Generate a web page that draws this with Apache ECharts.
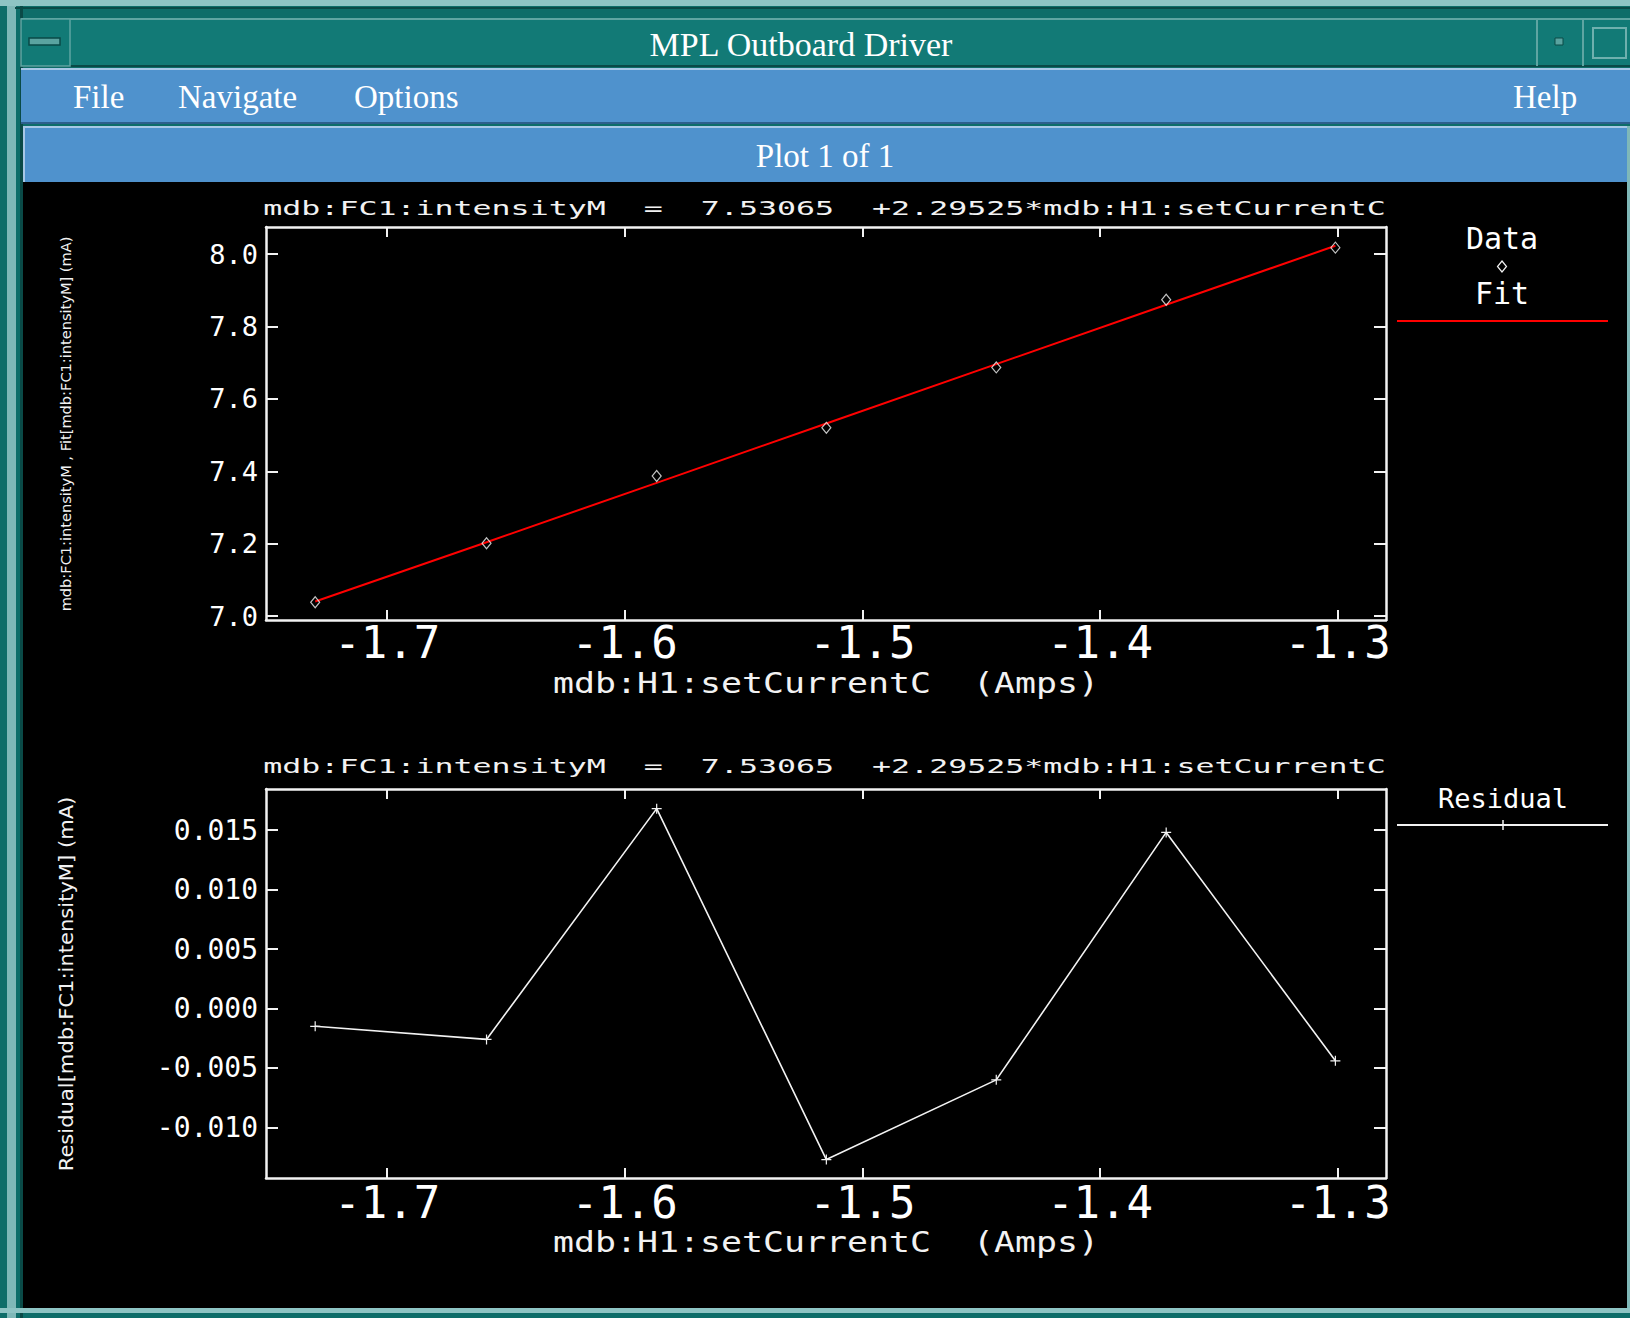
<!DOCTYPE html>
<html>
<head>
<meta charset="utf-8">
<script src="https://cdn.jsdelivr.net/npm/echarts@6/dist/echarts.min.js"></script>
<style>
html,body{margin:0;padding:0;background:#000;}
#chart{width:1630px;height:1318px;}
</style>
</head>
<body>
<div id="chart"></div>
<script>
// ---- data ----
const xValues = [-1.7303, -1.6582, -1.5866, -1.5152, -1.4437, -1.3722, -1.3010];
const dataValues = [7.038, 7.201, 7.387, 7.520, 7.687, 7.874, 8.018];
const fitValues = [7.040, 7.204, 7.368, 7.532, 7.696, 7.860, 8.023];
const residualValues = [-0.0015, -0.0026, 0.0168, -0.0127, -0.0060, 0.0148, -0.0044];
const xTicks = [-1.7, -1.6, -1.5, -1.4, -1.3];
const topYTicks = [7.0, 7.2, 7.4, 7.6, 7.8, 8.0];
const resYTicks = [-0.010, -0.005, 0.000, 0.005, 0.010, 0.015];

const windowTitle = 'MPL Outboard Driver';
const menuItems = ['File', 'Navigate', 'Options'];
const helpItem = 'Help';
const plotBarText = 'Plot 1 of 1';
const plotTitle = 'mdb:FC1:intensityM  =  7.53065  +2.29525*mdb:H1:setCurrentC';
const xName = 'mdb:H1:setCurrentC  (Amps)';
const topYName = 'mdb:FC1:intensityM , Fit[mdb:FC1:intensityM] (mA)';
const botYName = 'Residual[mdb:FC1:intensityM] (mA)';

// ---- helpers ----
const mctx = document.createElement('canvas').getContext('2d');
function textScale(text, font, target) {
  mctx.font = font;
  return target / mctx.measureText(text).width;
}
function zip(a, b) { return a.map((v, i) => [v, b[i]]); }

const MONO = 'DejaVu Sans Mono';
const SERIF = 'Liberation Serif';
const WHITE = '#f2f2f2';

function stretchedText(text, cx, cy, size, family, targetW, rot) {
  const font = size + 'px "' + family + '"';
  return {
    type: 'text', x: cx, y: cy, rotation: rot || 0,
    scaleX: textScale(text, font, targetW), scaleY: 1,
    silent: true, z: 50,
    style: { text: text, x: 0, y: 0, fill: WHITE, font: font,
      align: 'center', verticalAlign: 'middle', textAlign: 'center', textVerticalAlign: 'middle' }
  };
}
function plainText(text, x, y, size, family, align) {
  const font = size + 'px "' + family + '"';
  return {
    type: 'text', x: x, y: y, silent: true, z: 50,
    style: { text: text, x: 0, y: 0, fill: '#ffffff', font: font,
      align: align || 'left', verticalAlign: 'middle', textAlign: align || 'left', textVerticalAlign: 'middle' }
  };
}
function rect(x, y, w, h, fill, stroke, lw, z) {
  return { type: 'rect', silent: true, z: z || 1, shape: { x: x, y: y, width: w, height: h },
    style: { fill: fill, stroke: stroke || null, lineWidth: lw || 0 } };
}
function line(x1, y1, x2, y2, color, w, z) {
  return { type: 'line', silent: true, z: z || 2, shape: { x1: x1, y1: y1, x2: x2, y2: y2 },
    style: { stroke: color, lineWidth: w } };
}

const TEAL = '#127a76';
const BLUE = '#4f92cd';
const LIGHT = '#8ec4c4';

const graphics = [
  // window frame
  rect(0, 0, 1630, 1318, '#0e6d69', null, 0, 0),
  rect(0, 0, 1630, 6, LIGHT, null, 0, 1),
  rect(7, 6, 9, 1312, '#7fb8b8', null, 0, 1),
  rect(20, 6, 3, 1312, '#0a4a47', null, 0, 1),
  line(15, 8, 1630, 8, '#0a4a47', 2, 2),
  // title bar
  rect(21, 18, 1609, 49, TEAL, null, 0, 2),
  line(21, 19, 1630, 19, '#5fa5a2', 2, 3),
  line(21, 66, 1630, 66, '#0a4a47', 2, 3),
  rect(21, 19, 49, 47, TEAL, '#5fa5a2', 1.5, 3),
  rect(29, 38, 31, 7, '#5aa3a0', '#0a4a47', 1.5, 4),
  line(1537, 19, 1537, 66, '#5fa5a2', 2, 3),
  line(1583, 19, 1583, 66, '#5fa5a2', 2, 3),
  rect(1555, 38, 8, 7, '#5aa3a0', '#0a4a47', 1, 4),
  rect(1593, 28, 33, 30, TEAL, '#6fb0ae', 2, 4),
  // menu bar
  rect(21, 68, 1609, 55, BLUE, null, 0, 2),
  line(21, 69, 1630, 69, '#a8c8e6', 2, 3),
  line(21, 123, 1630, 123, '#2d5f8c', 2, 3),
  // plot bar
  rect(23, 126, 1604, 56, BLUE, null, 0, 2),
  line(23, 127, 1627, 127, '#a8c8e6', 2, 3),
  line(24, 127, 24, 182, '#a8c8e6', 2, 3),
  // black plot area
  rect(23, 182, 1604, 1126, '#000000', null, 0, 2),
  rect(0, 1308, 1630, 5, LIGHT, null, 0, 2),
  rect(1627, 126, 3, 1182, '#7fb8b8', null, 0, 2),

  plainText(windowTitle, 801, 44, 34, SERIF, 'center'),
  plainText(menuItems[0], 73, 97, 33, SERIF),
  plainText(menuItems[1], 178, 97, 33, SERIF),
  plainText(menuItems[2], 354, 97, 33, SERIF),
  plainText(helpItem, 1513, 97, 33, SERIF),
  plainText(plotBarText, 825, 156, 33, SERIF, 'center'),

  // plot titles
  stretchedText(plotTitle, 824.5, 208, 20, MONO, 1123),
  stretchedText(plotTitle, 824.5, 766, 20, MONO, 1123),
  // x axis names
  stretchedText(xName, 826, 683, 28, MONO, 546),
  stretchedText(xName, 826, 1242, 28, MONO, 546),
  // y axis names
  stretchedText(topYName, 66, 424, 14, 'DejaVu Sans', 375, Math.PI / 2),
  stretchedText(botYName, 66, 984, 20, 'DejaVu Sans', 375, Math.PI / 2),

  // legend top
  plainText('Data', 1502, 238, 30, MONO, 'center'),
  { type: 'polygon', silent: true, z: 50, shape: { points: [[1502, 261], [1506.5, 266.5], [1502, 272], [1497.5, 266.5]] },
    style: { fill: 'none', stroke: WHITE, lineWidth: 1.2 } },
  plainText('Fit', 1502, 293, 30, MONO, 'center'),
  line(1397, 321, 1608, 321, '#ff0000', 2, 50),
  // legend bottom
  plainText('Residual', 1503, 798, 27, MONO, 'center'),
  line(1397, 825, 1608, 825, WHITE, 2, 50),
  line(1503, 820, 1503, 830, WHITE, 1.5, 50)
];

const AXLINE = { show: true, onZero: false, lineStyle: { color: WHITE, width: 2.5 } };
function xAx(grid, pos, labels, margin) {
  return {
    type: 'value', gridIndex: grid, position: pos, min: -1.751, max: -1.2797, z: 20,
    axisLine: AXLINE, splitLine: { show: false },
    axisTick: { show: true, inside: true, length: 10, customValues: xTicks, lineStyle: { color: WHITE, width: 2 } },
    axisLabel: { show: labels, customValues: xTicks, color: '#ffffff', fontFamily: MONO, fontSize: 44, margin: margin,
      formatter: v => v.toFixed(1) }
  };
}
function yAx(grid, pos, min, max, ticks, labels, size, digits) {
  return {
    type: 'value', gridIndex: grid, position: pos, min: min, max: max, z: 20,
    axisLine: AXLINE, splitLine: { show: false },
    axisTick: { show: true, inside: true, length: 12, customValues: ticks, lineStyle: { color: WHITE, width: 2 } },
    axisLabel: { show: labels, customValues: ticks, color: '#ffffff', fontFamily: MONO, fontSize: size, margin: 8,
      formatter: v => v.toFixed(digits) }
  };
}

const plusPath = 'path://M0,4.4H10V5.6H0Z M4.4,0H5.6V10H4.4Z';

const option = {
  animation: false,
  backgroundColor: '#000',
  graphic: { elements: graphics },
  grid: [
    { left: 266, top: 227, width: 1120, height: 393, show: false },
    { left: 266, top: 789, width: 1120, height: 389, show: false }
  ],
  xAxis: [
    xAx(0, 'bottom', true, 0),
    xAx(0, 'top', false, 0),
    xAx(1, 'bottom', true, 2),
    xAx(1, 'top', false, 2)
  ],
  yAxis: [
    yAx(0, 'left', 6.989, 8.075, topYTicks, true, 27, 1),
    yAx(0, 'right', 6.989, 8.075, topYTicks, false, 27, 1),
    yAx(1, 'left', -0.01425, 0.01845, resYTicks, true, 28, 3),
    yAx(1, 'right', -0.01425, 0.01845, resYTicks, false, 28, 3)
  ],
  series: [
    { type: 'line', name: 'Fit', xAxisIndex: 0, yAxisIndex: 0, data: zip(xValues, fitValues),
      showSymbol: false, lineStyle: { color: '#ff0000', width: 2 }, z: 23 },
    { type: 'scatter', name: 'Data', xAxisIndex: 0, yAxisIndex: 0, data: zip(xValues, dataValues),
      symbol: 'diamond', symbolSize: [9, 11],
      itemStyle: { color: 'rgba(0,0,0,0)', borderColor: WHITE, borderWidth: 1.2 }, z: 24 },
    { type: 'line', name: 'Residual', xAxisIndex: 2, yAxisIndex: 2, data: zip(xValues, residualValues),
      symbol: plusPath, symbolSize: 10, showSymbol: true,
      itemStyle: { color: WHITE, borderWidth: 0 }, lineStyle: { color: WHITE, width: 1.6 }, z: 23 }
  ]
};

const chart = echarts.init(document.getElementById('chart'), null, { renderer: 'svg' });
chart.setOption(option);
</script>
</body>
</html>
